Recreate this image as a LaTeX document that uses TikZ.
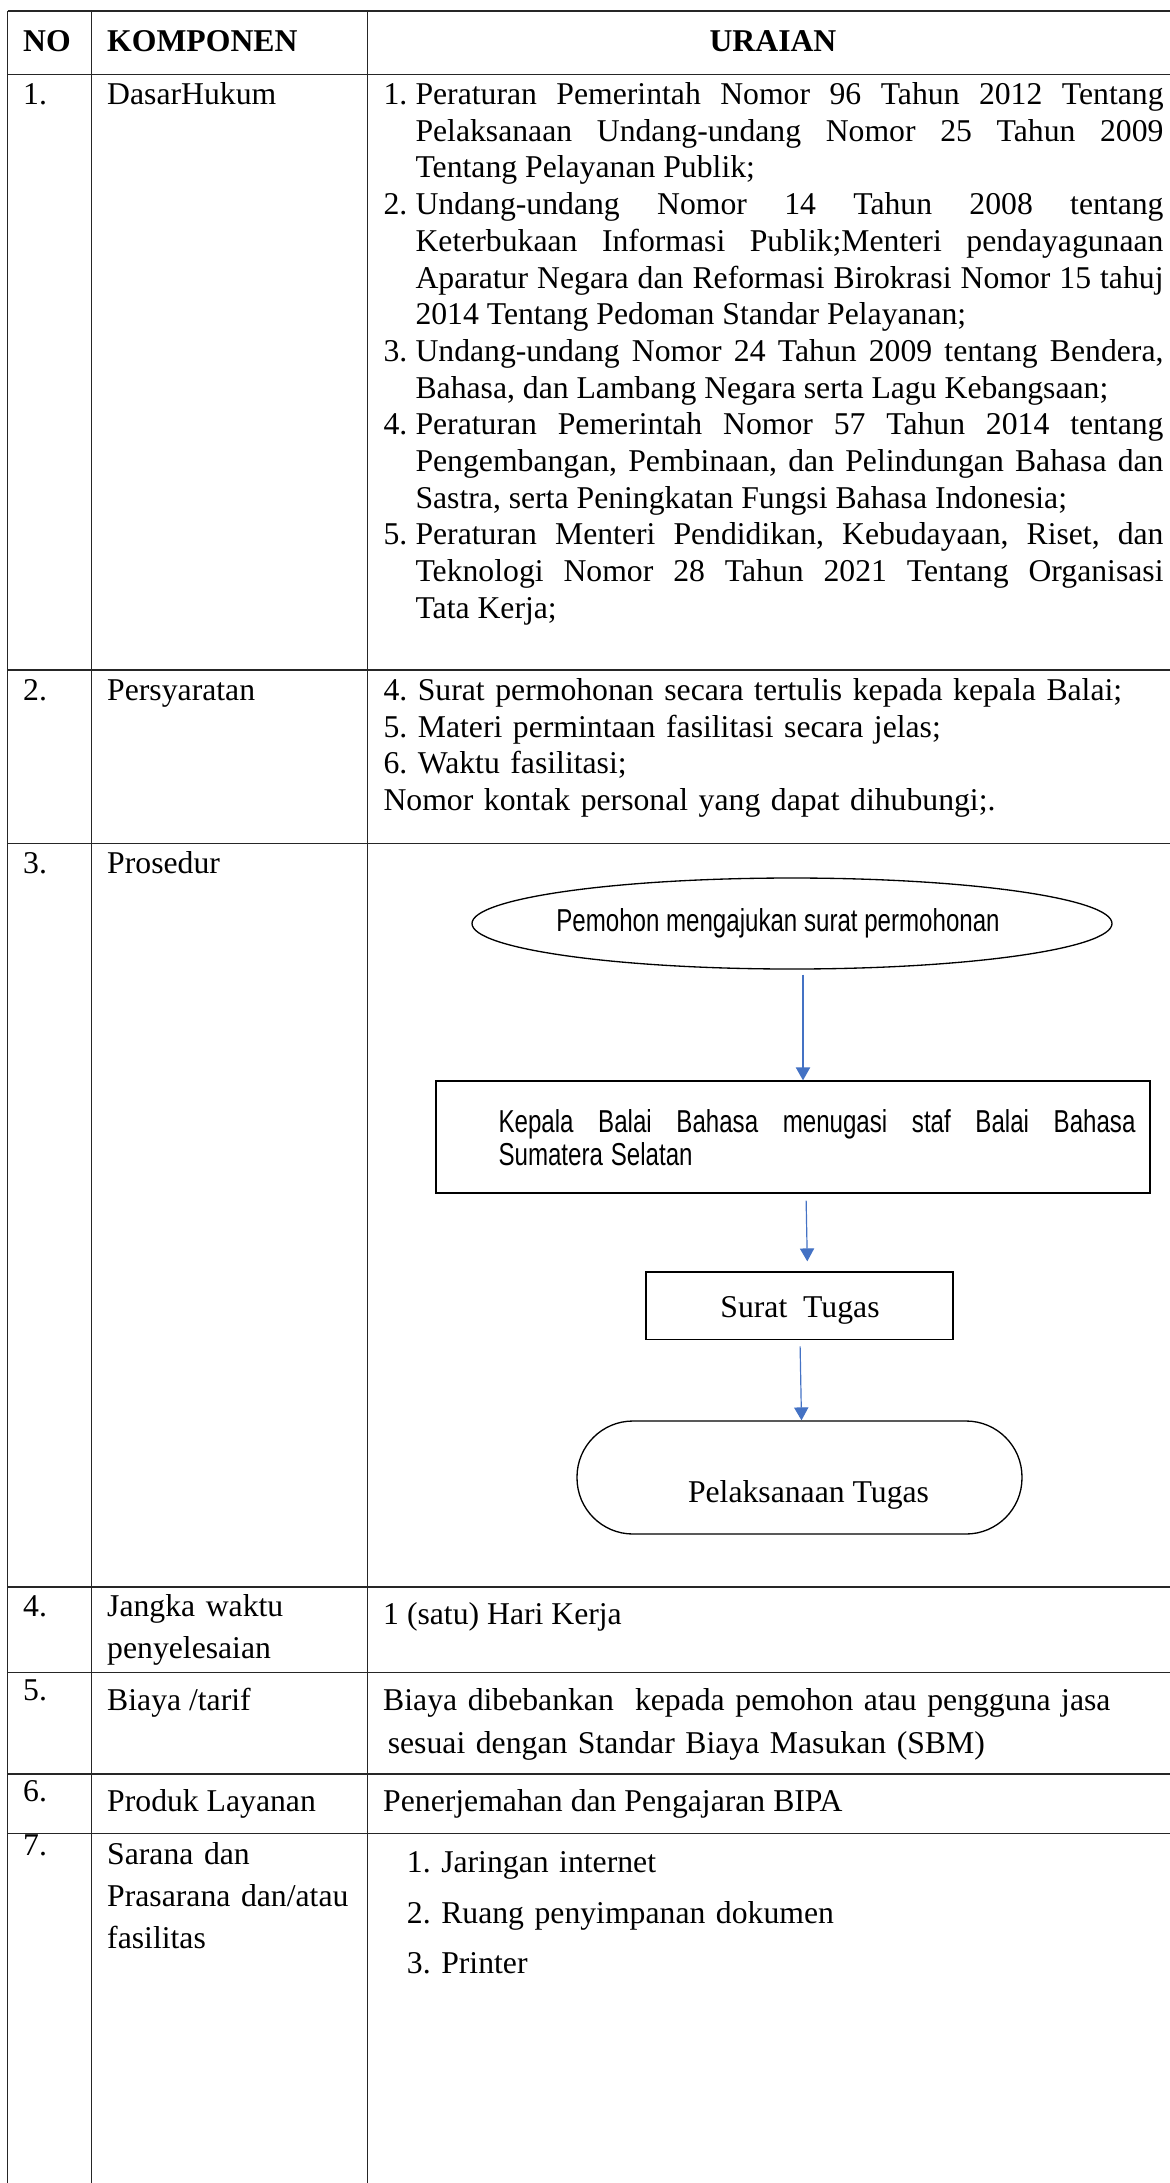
\documentclass[tikz,border=0pt]{standalone}
\usepackage{fontspec}
\setmainfont{Liberation Serif}
\newfontfamily\flowfont[FakeStretch=0.76]{Liberation Sans}
\usetikzlibrary{arrows.meta,shapes.geometric}

\frenchspacing
\hyphenpenalty=10000
\exhyphenpenalty=10000

\newdimen\pxl \pxl=0.3785pt
\newcommand\cellfont{\fontsize{12}{13.89}\selectfont}
\newcommand\loosespace{\spaceskip=0.25em plus 1em minus 0.08em\relax}
\newcommand\itempar[2]{\noindent\loosespace\hangindent=32\pxl\hangafter=1\makebox[32\pxl][l]{#1}#2\par}

\definecolor{arrowblue}{HTML}{4472C4}
\colorlet{rulegray}{black!85}

\tikzset{
  gridline/.style={draw=rulegray, line width=0.6pt},
  cell/.style={inner sep=0pt, anchor=base west, font=\cellfont},
  head/.style={cell, font=\cellfont\bfseries},
  loosecell/.style={cell, align=left, font=\fontsize{12}{15.8}\selectfont},
  startstop/.style={ellipse, draw, line width=0.5pt, inner sep=0pt},
  processbox/.style={rectangle, draw, line width=0.5pt, inner sep=0pt},
  terminal/.style={rectangle, rounded corners=56\pxl, draw, line width=0.5pt, inner sep=0pt},
  flowtext/.style={inner sep=0pt, font=\flowfont\fontsize{12}{12.57}\selectfont},
  flowarrow/.style={draw=arrowblue, line width=0.45pt, -{Triangle[width=5.4pt, length=4.9pt]}}
}

\begin{document}
\begin{tikzpicture}[x=0.3785pt, y=-0.3785pt]
  \useasboundingbox (0,0) rectangle (1170,2183);

  % table rules
  \foreach \y in {11,74.5,670,843.5,1587,1672.5,1774,1833.5}
    \draw[gridline] (7.5,\y) -- (1170,\y);
  \foreach \x in {7.5,91.7,367.7}
    \draw[gridline] (\x,11) -- (\x,2183);

  % header
  \node[head] (no-h) at (22.7,51.5) {NO};
  \node[head] (komponen-h) at (106.7,51.5) {KOMPONEN};
  \node[head, anchor=base] (uraian-h) at (773,51) {URAIAN};

  % column NO
  \node[cell] (no-1) at (22.7,104.5) {1.};
  \node[cell] (no-2) at (22.7,700.5) {2.};
  \node[cell] (no-3) at (22.7,873) {3.};
  \node[cell] (no-4) at (22.7,1616.7) {4.};
  \node[cell] (no-5) at (22.7,1700) {5.};
  \node[cell] (no-6) at (22.7,1801.5) {6.};
  \node[cell] (no-7) at (22.7,1855) {7.};

  % column KOMPONEN
  \node[cell] (dasar) at (106.7,104.5) {DasarHukum};
  \node[cell] (syarat) at (106.7,700.5) {Persyaratan};
  \node[cell] (prosedur) at (106.7,873) {Prosedur};
  \node[loosecell, text width=255\pxl] (jangka) at (106.7,1616.7) {Jangka waktu\\penyelesaian};
  \node[cell] (biaya) at (106.7,1710.8) {Biaya /tarif};
  \node[cell] (produk) at (106.7,1811.9) {Produk Layanan};
  \node[loosecell, text width=255\pxl] (sarana) at (106.7,1864.7) {Sarana dan\\Prasarana dan/atau\\fasilitas};

  % column URAIAN
  \node[cell, text width=780\pxl, align=justify] (dasar-txt) at (383,104.5) {%
    \itempar{1.}{Peraturan Pemerintah Nomor 96 Tahun 2012 Tentang\linebreak Pelaksanaan Undang-undang Nomor 25 Tahun 2009\linebreak Tentang Pelayanan Publik;}
    \itempar{2.}{Undang-undang Nomor 14 Tahun 2008 tentang\linebreak Keterbukaan Informasi Publik;Menteri pendayagunaan\linebreak Aparatur Negara dan Reformasi Birokrasi Nomor 15 tahuj\linebreak 2014 Tentang Pedoman Standar Pelayanan;}
    \itempar{3.}{Undang-undang Nomor 24 Tahun 2009 tentang Bendera,\linebreak Bahasa, dan Lambang Negara serta Lagu Kebangsaan;}
    \itempar{4.}{Peraturan Pemerintah Nomor 57 Tahun 2014 tentang\linebreak Pengembangan, Pembinaan, dan Pelindungan Bahasa dan\linebreak Sastra, serta Peningkatan Fungsi Bahasa Indonesia;}
    \itempar{5.}{Peraturan Menteri Pendidikan, Kebudayaan, Riset, dan\linebreak Teknologi Nomor 28 Tahun 2021 Tentang Organisasi\linebreak Tata Kerja;}};
  \node[cell, text width=780\pxl, align=left] (syarat-txt) at (383,700.5)
    {4. Surat permohonan secara tertulis kepada kepala Balai;\\5. Materi permintaan fasilitasi secara jelas;\\6. Waktu fasilitasi;\\Nomor kontak personal yang dapat dihubungi;.};

  % flowchart
  \node[startstop, minimum width=640\pxl, minimum height=91\pxl] (pemohon) at (792,923.5) {};
  \node[processbox, minimum width=714\pxl, minimum height=112\pxl] (tugaskan) at (793,1137) {};
  \node[processbox, minimum width=307\pxl, minimum height=67.6\pxl] (surat) at (799.5,1305.8) {};
  \node[terminal, minimum width=445\pxl, minimum height=113\pxl] (laksana) at (799.5,1477.5) {};

  \node[flowtext, anchor=base] (pemohon-txt) at (778,931) {Pemohon mengajukan surat permohonan};
  \node[flowtext, anchor=base west, text width=637\pxl, align=justify] (tugaskan-txt) at (498,1132.5)
    {\loosespace Kepala Balai Bahasa menugasi staf Balai Bahasa\linebreak Sumatera Selatan\par};
  \node[cell, anchor=base] (surat-txt) at (800,1317) {Surat\ \ Tugas};
  \node[cell, anchor=base] (laksana-txt) at (808.5,1502) {Pelaksanaan Tugas};

  \draw[flowarrow, shorten <=5\pxl] ([xshift=11\pxl]pemohon.south) -- ([xshift=10\pxl]tugaskan.north);
  \draw[flowarrow, shorten <=7\pxl, shorten >=10\pxl] ([xshift=13\pxl]tugaskan.south) -- ([xshift=8\pxl]surat.north);
  \draw[flowarrow, shorten <=6\pxl] ([xshift=0.5\pxl]surat.south) -- ([xshift=2\pxl]laksana.north);

  % remaining rows
  \node[cell] (jangka-txt) at (382.7,1624.7) {1 (satu) Hari Kerja};
  \node[cell, text width=780\pxl, align=left, font=\fontsize{12}{16}\selectfont] (biaya-txt) at (382.7,1710.8)
    {Biaya dibebankan\ \ kepada pemohon atau pengguna jasa\\\hspace*{4.6\pxl}sesuai dengan Standar Biaya Masukan (SBM)};
  \node[cell] (produk-txt) at (382.7,1811.9) {Penerjemahan dan Pengajaran BIPA};
  \node[cell, text width=600\pxl, align=left, font=\fontsize{12}{19.19}\selectfont] (sarana-txt) at (406.4,1872.3)
    {1. Jaringan internet\\2. Ruang penyimpanan dokumen\\3. Printer};
\end{tikzpicture}
\end{document}
